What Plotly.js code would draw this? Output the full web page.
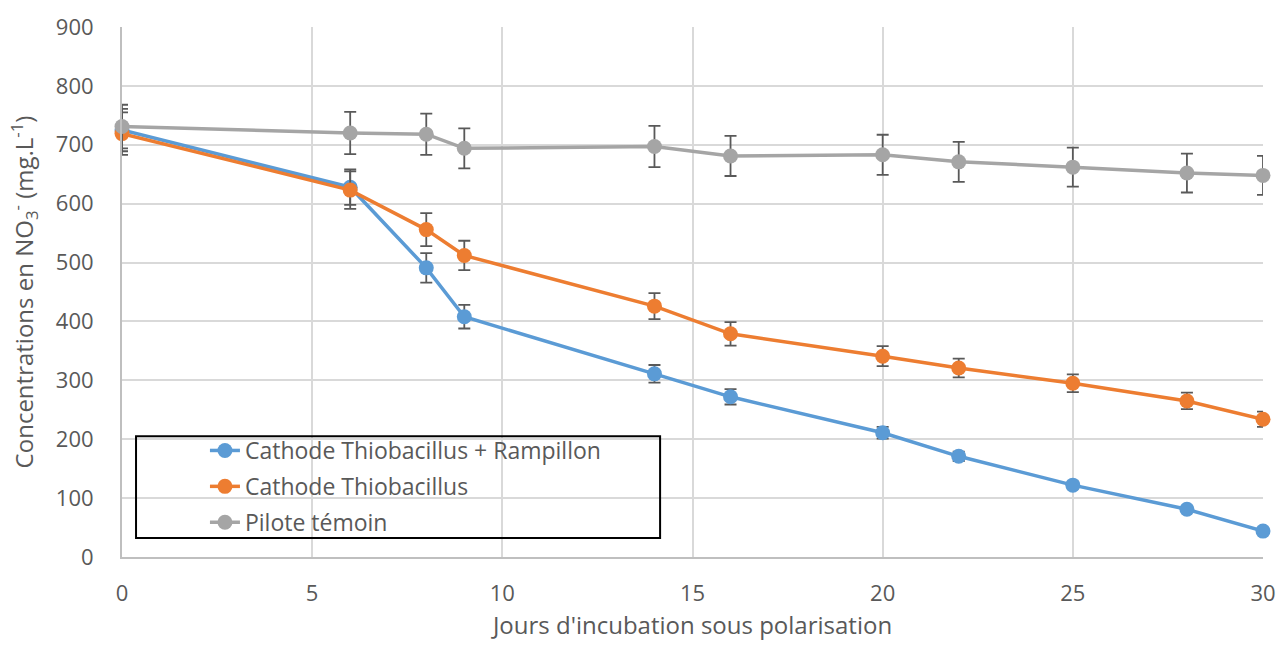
<!DOCTYPE html>
<html>
<head>
<meta charset="utf-8">
<script src="https://cdn.plot.ly/plotly-3.0.1.min.js"></script>
<style>html,body{margin:0;padding:0;background:#fff;}#chart{width:1278px;height:645px;}</style>
</head>
<body>
<div id="chart"></div>
<script>
const days = [0, 6, 8, 9, 14, 16, 20, 22, 25, 28, 30];
const seriesNames = ["Cathode Thiobacillus + Rampillon", "Cathode Thiobacillus", "Pilote témoin"];
const rampillon = [725, 628, 491, 408, 311, 272, 211, 171, 122, 81, 44];
const rampillonErr = [36, 30, 25, 20, 15, 13, 10, 8, 6, 4, 2];
const thiobacillus = [719, 623, 556, 512, 426, 379, 341, 321, 295, 265, 234];
const thiobacillusErr = [36, 32, 28, 25, 22, 20, 17, 16, 15, 14, 13];
const temoin = [731, 720, 718, 694, 697, 681, 683, 671, 662, 652, 648];
const temoinErr = [37, 36, 35, 34, 35, 34, 34, 34, 33, 33, 33];
const colors = ["#5B9BD5", "#ED7D31", "#A5A5A5"];
const values = [rampillon, thiobacillus, temoin];
const errs = [rampillonErr, thiobacillusErr, temoinErr];

const traces = values.map((v, i) => ({
  x: days, y: v, name: seriesNames[i], type: "scatter", mode: "lines+markers",
  legendgroup: "g" + i, cliponaxis: false,
  line: {color: colors[i], width: 3.5},
  marker: {color: colors[i], size: 15},
  error_y: {type: "data", array: errs[i], visible: true, color: "#595959", thickness: 1.8, width: 6}
}));

const font = "Open Sans, Liberation Sans, sans-serif";
const layout = {
  width: 1278, height: 645,
  margin: {l: 122, r: 15, t: 27, b: 88},
  paper_bgcolor: "#fff", plot_bgcolor: "#fff",
  font: {family: font, color: "#595959", size: 22},
  showlegend: true,
  legend: {x: 0.0727, y: 0.2415, xanchor: "left", yanchor: "top", bgcolor: "rgba(0,0,0,0)",
           borderwidth: 0, font: {size: 23, color: "#595959"}, tracegroupgap: 3},
  xaxis: {range: [0, 30], dtick: 5, tick0: 0, showgrid: true, gridcolor: "#d9d9d9", gridwidth: 2,
          zeroline: false, showline: true, linecolor: "#bfbfbf", linewidth: 2, ticks: "",
          ticklabelstandoff: 16,
          title: {text: "Jours d'incubation sous polarisation", font: {size: 24, color: "#595959"}, standoff: 11}},
  yaxis: {range: [0, 900], dtick: 100, tick0: 0, showgrid: true, gridcolor: "#d9d9d9", gridwidth: 2,
          zeroline: false, showline: true, linecolor: "#bfbfbf", linewidth: 2, ticks: "",
          ticklabelstandoff: 22,
          title: {text: "Concentrations en NO<sub>3</sub><sup>-</sup> (mg.L<sup>-1</sup>)", font: {size: 24, color: "#595959"}, standoff: 15}},
  shapes: [{type: "rect", xref: "paper", yref: "paper", x0: 0.0123, x1: 0.4716, y0: 0.036, y1: 0.228,
            line: {color: "#000", width: 2}, fillcolor: "rgba(0,0,0,0)", layer: "above"}]
};
Plotly.newPlot("chart", traces, layout, {displayModeBar: false, staticPlot: true});
</script>
</body>
</html>
